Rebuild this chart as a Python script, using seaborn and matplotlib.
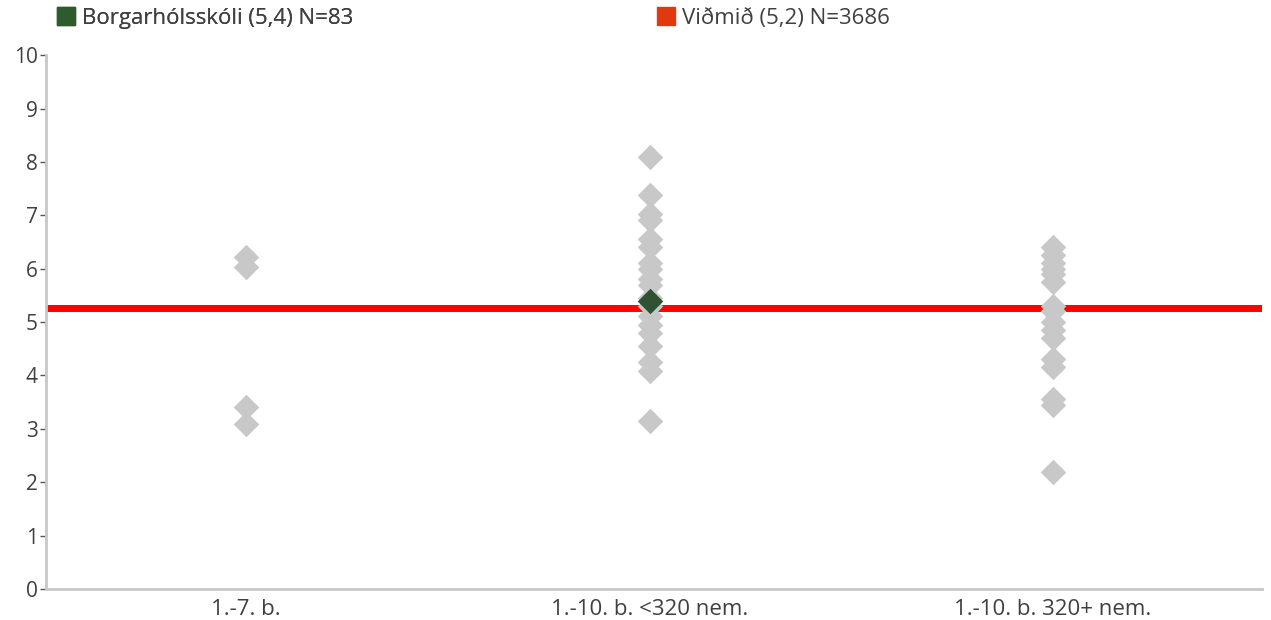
import matplotlib
matplotlib.use("Agg")
import matplotlib.pyplot as plt
import seaborn as sns
import pandas as pd
from matplotlib.lines import Line2D

categories = ["1.-7. b.", "1.-10. b. <320 nem.", "1.-10. b. 320+ nem."]
group1 = [6.22, 6.03, 3.41, 3.09]
group2 = [8.10, 7.38, 7.02, 6.92, 6.55, 6.40, 6.10, 6.00, 5.80, 5.70, 5.45, 5.30,
          5.12, 4.95, 4.80, 4.55, 4.25, 4.08, 3.15]
group3 = [6.40, 6.25, 6.10, 6.00, 5.90, 5.75, 5.30, 5.20, 5.00, 4.85, 4.70, 4.30,
          4.15, 3.55, 3.45, 2.20]
school_name = "Borgarhólsskóli (5,4) N=83"
school_category = "1.-10. b. <320 nem."
school_value = 5.40
benchmark_name = "Viðmið (5,2) N=3686"
benchmark_value = 5.27
yticks = list(range(0, 11))

sns.set_theme(style="white")
plt.rcParams['font.family'] = ['Open Sans', 'DejaVu Sans']

df = pd.DataFrame({
    "cat": [categories[0]] * len(group1) + [categories[1]] * len(group2) + [categories[2]] * len(group3),
    "val": group1 + group2 + group3,
})
sdf = pd.DataFrame({"cat": [school_category], "val": [school_value]})

fig = plt.figure(figsize=(12.71, 6.2), dpi=100)
ax = fig.add_axes([0.0362, 0.05, 0.9567, 0.861])

ax.axhline(benchmark_value, color="#FF0000", lw=5, zorder=1)
sns.stripplot(data=df, x="cat", y="val", order=categories, jitter=False, marker="D",
              s=13, color="#C8C8C8", linewidth=0, ax=ax, zorder=2)
sns.stripplot(data=sdf, x="cat", y="val", order=categories, jitter=False, marker="D",
              s=13, color="#2F5233", linewidth=0, ax=ax, zorder=3)

ax.set_ylim(0, 10)
ax.set_xlim(-0.496, 2.518)
ax.set_yticks(yticks)
ax.set_xlabel("")
ax.set_ylabel("")
for s in ["top", "right"]:
    ax.spines[s].set_visible(False)
for s in ["left", "bottom"]:
    ax.spines[s].set_color("#C8C8C8")
    ax.spines[s].set_linewidth(2)
ax.tick_params(axis="y", left=True, length=4, width=1, color="#555555", labelsize=15,
               labelcolor="#404040", pad=2)
ax.tick_params(axis="x", bottom=False, labelsize=16, labelcolor="#404040", pad=1)

h1 = Line2D([], [], marker="s", linestyle="none", markersize=13, color="#2E5A2E")
h2 = Line2D([], [], marker="s", linestyle="none", markersize=13, color="#E0380F")
leg1 = fig.legend([h1], [school_name], loc="upper left", bbox_to_anchor=(0.029, 1.02),
                  frameon=False, fontsize=16, handlelength=0.8, handletextpad=0.35,
                  labelcolor="#404040")
fig.add_artist(leg1)
fig.legend([h2], [benchmark_name], loc="upper left", bbox_to_anchor=(0.501, 1.02),
           frameon=False, fontsize=16, handlelength=0.8, handletextpad=0.35,
           labelcolor="#404040")

fig.savefig("out.png", dpi=100)
